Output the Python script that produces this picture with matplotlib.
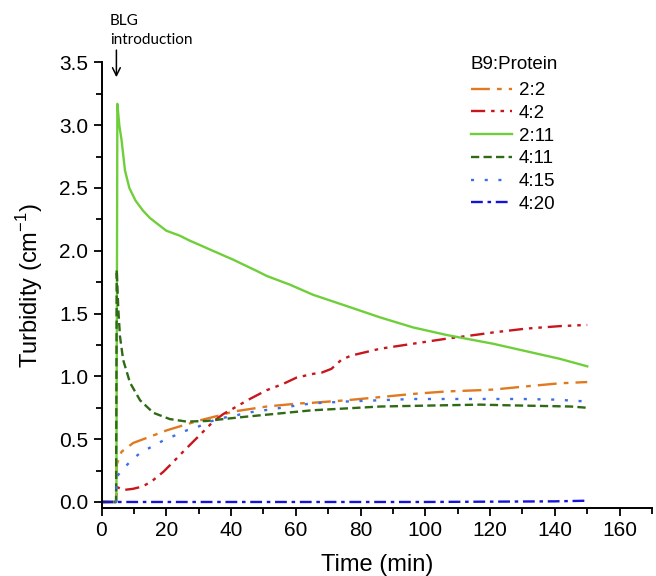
import matplotlib
matplotlib.use("Agg")
import matplotlib.pyplot as plt
from matplotlib.ticker import MultipleLocator, FormatStrFormatter

plt.rcParams['font.family'] = ['Liberation Sans', 'DejaVu Sans']

# ---- data (time in min, turbidity in cm^-1) ----
labels = ["2:2", "4:2", "2:11", "4:11", "4:15", "4:20"]

t_22 = [0, 4.5, 4.7, 6.2, 9.8, 15, 20.1, 25.2, 30.4, 36.6, 40.7, 51, 55, 61.3, 65.3,
        75.7, 86, 96, 106.5, 116.8, 121, 131, 141.5, 150]
v_22 = [0, 0, 0.30, 0.40, 0.47, 0.52, 0.57, 0.61, 0.65, 0.69, 0.72, 0.76, 0.77, 0.785, 0.79,
        0.81, 0.835, 0.86, 0.88, 0.89, 0.895, 0.92, 0.945, 0.955]

t_42 = [0, 4.5, 4.7, 6.7, 9.8, 12.9, 16, 19.1, 22.2, 25.2, 28.3, 31.4, 34.5, 37.6, 40.7,
        45.8, 51, 56.1, 60.2, 65.3, 68, 71, 74, 77, 86, 96.2, 106.5, 116.8, 121, 131, 141.5, 150]
v_42 = [0, 0, 0.12, 0.095, 0.105, 0.125, 0.175, 0.24, 0.32, 0.40, 0.48, 0.56, 0.64, 0.70, 0.745,
        0.82, 0.89, 0.94, 0.99, 1.02, 1.03, 1.06, 1.13, 1.165, 1.22, 1.26, 1.30, 1.335, 1.35, 1.38, 1.40, 1.41]

t_211 = [0, 4.6, 4.9, 5.5, 6.2, 7.25, 8.6, 10.5, 12.8, 15, 18, 20, 24.2, 27.3, 30, 33.5,
         40.6, 47.9, 51, 55.1, 58.2, 65.3, 75.7, 86, 96.2, 106.5, 110.6, 120.9, 131.2, 141.5, 150]
v_211 = [0, 0, 3.17, 3.0, 2.88, 2.64, 2.50, 2.40, 2.32, 2.26, 2.20, 2.16, 2.12, 2.08, 2.05, 2.01,
         1.93, 1.84, 1.80, 1.76, 1.73, 1.65, 1.56, 1.47, 1.39, 1.33, 1.31, 1.26, 1.20, 1.14, 1.08]

t_411 = [0, 4.5, 4.7, 5.2, 5.7, 6.7, 8.8, 11.9, 16, 21.1, 26.3, 32.5, 37.6, 45, 55, 65,
         75.7, 86, 96, 106, 117, 125, 135, 145, 150]
v_411 = [0, 0, 1.85, 1.53, 1.32, 1.13, 0.95, 0.81, 0.71, 0.66, 0.64, 0.645, 0.66, 0.68, 0.705, 0.73,
         0.745, 0.76, 0.765, 0.77, 0.775, 0.77, 0.765, 0.76, 0.75]

t_415 = [0, 4.5, 4.7, 6.2, 8.8, 11.9, 15.5, 19.1, 22.7, 26.3, 29.9, 33.5, 37.6, 41.7, 44.8,
         53, 60.7, 65, 75.7, 86, 96, 106, 117, 130, 140, 150]
v_415 = [0, 0, 0.20, 0.25, 0.32, 0.39, 0.44, 0.49, 0.53, 0.57, 0.60, 0.64, 0.67, 0.69, 0.71,
         0.74, 0.77, 0.785, 0.80, 0.81, 0.82, 0.82, 0.82, 0.82, 0.815, 0.80]

t_420 = [0, 60, 100, 140, 150]
v_420 = [0, 0, 0, 0.005, 0.01]

series_t = [t_22, t_42, t_211, t_411, t_415, t_420]
series_v = [v_22, v_42, v_211, v_411, v_415, v_420]

colors = ["#e0791f", "#c8161d", "#6fcf3a", "#2f6a14", "#3d6fe6", "#1414d8"]
styles = [(0, (8, 3, 2, 3)), (0, (6, 2.5, 1.5, 2.5, 1.5, 2.5)), "-", (0, (3.5, 1.8)),
          (0, (1.3, 4.5)), (0, (5, 2, 1.5, 2))]

# ---- figure ----
fig = plt.figure(figsize=(6.56, 5.76), dpi=100)
ax = fig.add_axes([101.5 / 656, (576 - 508) / 576, (652 - 101.5) / 656, (508 - 62.4) / 576])

for t, v, c, ls, lab in zip(series_t, series_v, colors, styles, labels):
    ax.plot(t, v, color=c, linestyle=ls, lw=1.7, label=lab)

ax.set_xlim(0, 170)
ax.set_ylim(-0.048, 3.5)
ax.set_xticks([0, 20, 40, 60, 80, 100, 120, 140, 160])
ax.xaxis.set_minor_locator(MultipleLocator(10))
ax.yaxis.set_major_locator(MultipleLocator(0.5))
ax.yaxis.set_minor_locator(MultipleLocator(0.25))
ax.yaxis.set_major_formatter(FormatStrFormatter('%.1f'))

for s in ["top", "right"]:
    ax.spines[s].set_visible(False)
for s in ["left", "bottom"]:
    ax.spines[s].set_linewidth(1.4)

ax.tick_params(which='major', direction='out', length=6, width=1.3, labelsize=15)
ax.tick_params(which='minor', direction='out', length=4, width=1.3)

ax.set_xlabel("Time (min)", fontsize=17, labelpad=10)
ax.set_ylabel(r"Turbidity (cm$^{\mathregular{-1}}$)", fontsize=17, labelpad=10)

leg = ax.legend(title="B9:Protein", frameon=False, fontsize=13.5, title_fontsize=13.5,
                loc='upper left', bbox_to_anchor=(471 / 656, 1 - 56 / 576),
                bbox_transform=fig.transFigure, borderpad=0, borderaxespad=0,
                handlelength=2.2, handletextpad=0.35, labelspacing=0.3, alignment='left')
leg._legend_box.sep = 0.3 * 13.5 + 2.5

# annotation
ax.annotate("", xy=(4.6, 3.36), xytext=(4.6, 3.62), xycoords='data',
            arrowprops=dict(arrowstyle='->', lw=1.1, color='black', mutation_scale=14),
            annotation_clip=False)
fig.text(110 / 656, 1 - 14 / 576, "BLG\nintroduction", fontsize=11, family=['Lato', 'DejaVu Sans'],
         va='top', ha='left', linespacing=1.5)

fig.savefig("out.png", dpi=100)
